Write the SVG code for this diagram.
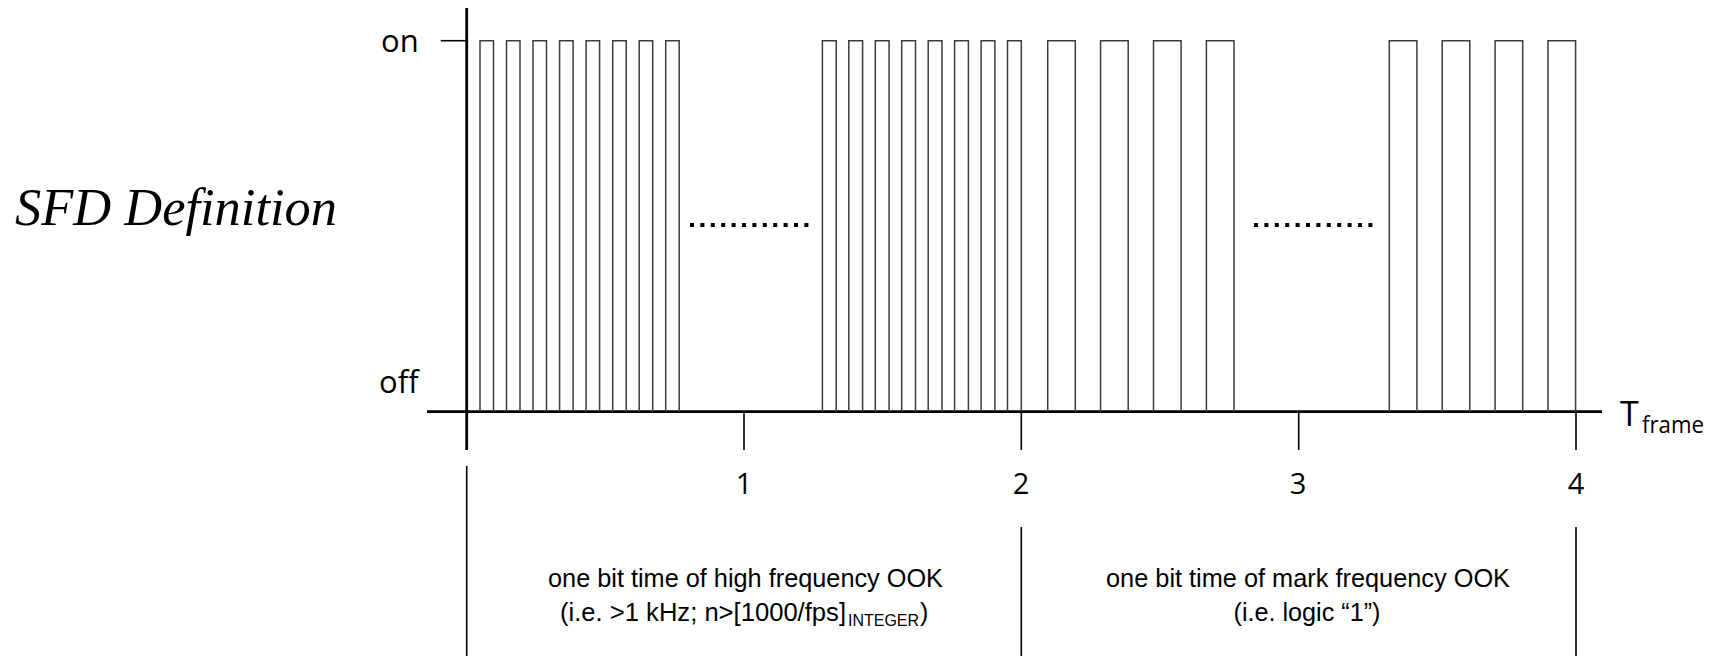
<svg xmlns="http://www.w3.org/2000/svg" width="1720" height="656" viewBox="0 0 1720 656">
<style>
.ax{stroke:#000;stroke-width:2.8;fill:none}
.tk{stroke:#000;stroke-width:1.6;fill:none}
.p{stroke:#3c3c3c;stroke-width:1.5;fill:none}
.lbl{font-family:"Open Sans","DejaVu Sans",sans-serif;fill:#000;font-weight:500}
.bt{font-family:"Liberation Sans Narrow","Liberation Sans",Arial,sans-serif;fill:#000}
.dot{fill:#000}
</style>
<rect width="1720" height="656" fill="#fff"/>
<g id="title"><text x="15" y="225" font-family="Liberation Serif,Times New Roman,serif" font-style="italic" font-size="53" textLength="322" lengthAdjust="spacingAndGlyphs">SFD Definition</text></g>
<g id="axes">
<line class="ax" x1="466.7" y1="8" x2="466.7" y2="450"/>
<line class="ax" x1="427" y1="411.7" x2="1602" y2="411.7"/>
<line class="tk" x1="440.7" y1="40.7" x2="466.7" y2="40.7"/>
<line class="tk" x1="744" y1="411.7" x2="744" y2="450"/>
<line class="tk" x1="1021.3" y1="411.7" x2="1021.3" y2="450"/>
<line class="tk" x1="1298.7" y1="411.7" x2="1298.7" y2="450"/>
<line class="tk" x1="1576" y1="411.7" x2="1576" y2="450"/>
<text class="lbl" x="381" y="52" font-size="31">on</text>
<text class="lbl" x="379" y="393" font-size="31">off</text>
<text class="lbl" x="744" y="494" font-size="29" text-anchor="middle">1</text>
<text class="lbl" x="1021" y="494" font-size="29" text-anchor="middle">2</text>
<text class="lbl" x="1298" y="494" font-size="29" text-anchor="middle">3</text>
<text class="lbl" x="1576" y="494" font-size="29" text-anchor="middle">4</text>
<text class="lbl" x="1620" y="426" font-size="34">T</text>
<text class="lbl" x="1642" y="433" font-size="23" textLength="62" lengthAdjust="spacingAndGlyphs">frame</text>
</g>
<g id="pulses">
<path class="p" d="M480,411.7V40.7H493.5V411.7M506.5,411.7V40.7H520V411.7M533,411.7V40.7H546.5V411.7M559.6,411.7V40.7H573.1V411.7M586.1,411.7V40.7H599.6V411.7M612.7,411.7V40.7H626.2V411.7M639.2,411.7V40.7H652.7V411.7M665.7,411.7V40.7H679.2V411.7"/>
<path class="p" d="M822.4,411.7V40.7H836.2V411.7M848.8,411.7V40.7H862.6V411.7M875.3,411.7V40.7H889.1V411.7M901.7,411.7V40.7H915.5V411.7M928.2,411.7V40.7H942V411.7M954.6,411.7V40.7H968.4V411.7M981.1,411.7V40.7H994.9V411.7M1007.5,411.7V40.7H1021.3V411.7"/>
<path class="p" d="M1047.7,411.7V40.7H1075.3V411.7M1100.6,411.7V40.7H1128.2V411.7M1153.5,411.7V40.7H1181.1V411.7M1206.4,411.7V40.7H1234V411.7"/>
<path class="p" d="M1389.3,411.7V40.7H1416.9V411.7M1442.2,411.7V40.7H1469.8V411.7M1495.1,411.7V40.7H1522.7V411.7M1548,411.7V40.7H1575.6V411.7"/>
</g>
<g id="dots1">
<rect class="dot" x="690" y="223" width="4" height="4"/><rect class="dot" x="700.4" y="223" width="4" height="4"/><rect class="dot" x="710.8" y="223" width="4" height="4"/><rect class="dot" x="721.2" y="223" width="4" height="4"/><rect class="dot" x="731.6" y="223" width="4" height="4"/><rect class="dot" x="742" y="223" width="4" height="4"/><rect class="dot" x="752.4" y="223" width="4" height="4"/><rect class="dot" x="762.8" y="223" width="4" height="4"/><rect class="dot" x="773.2" y="223" width="4" height="4"/><rect class="dot" x="783.6" y="223" width="4" height="4"/><rect class="dot" x="794" y="223" width="4" height="4"/><rect class="dot" x="804.4" y="223" width="4" height="4"/>
</g>
<g id="dots2">
<rect class="dot" x="1254" y="223" width="4" height="4"/><rect class="dot" x="1264.4" y="223" width="4" height="4"/><rect class="dot" x="1274.8" y="223" width="4" height="4"/><rect class="dot" x="1285.2" y="223" width="4" height="4"/><rect class="dot" x="1295.6" y="223" width="4" height="4"/><rect class="dot" x="1306" y="223" width="4" height="4"/><rect class="dot" x="1316.4" y="223" width="4" height="4"/><rect class="dot" x="1326.8" y="223" width="4" height="4"/><rect class="dot" x="1337.2" y="223" width="4" height="4"/><rect class="dot" x="1347.6" y="223" width="4" height="4"/><rect class="dot" x="1358" y="223" width="4" height="4"/><rect class="dot" x="1368.4" y="223" width="4" height="4"/>
</g>
<g id="connectors">
<line class="tk" x1="466.7" y1="466" x2="466.7" y2="656"/>
<line class="tk" x1="1021.3" y1="527" x2="1021.3" y2="656"/>
<line class="tk" x1="1576" y1="527" x2="1576" y2="656"/>
</g>
<g id="label-high">
<text class="bt" x="548" y="587" font-size="25" textLength="395" lengthAdjust="spacingAndGlyphs">one bit time  of high frequency OOK</text>
<text class="bt" x="560" y="621" font-size="25" textLength="286" lengthAdjust="spacingAndGlyphs">(i.e. &gt;1 kHz; n&gt;[1000/fps]</text>
<text class="bt" x="848" y="626" font-size="16" textLength="71" lengthAdjust="spacingAndGlyphs">INTEGER</text>
<text class="bt" x="920" y="621" font-size="25">)</text>
</g>
<g id="label-mark">
<text class="bt" x="1308" y="587" font-size="25" text-anchor="middle" textLength="404" lengthAdjust="spacingAndGlyphs">one bit time  of mark frequency OOK</text>
<text class="bt" x="1307" y="621" font-size="25" text-anchor="middle" textLength="147" lengthAdjust="spacingAndGlyphs">(i.e. logic “1”)</text>
</g>
</svg>
